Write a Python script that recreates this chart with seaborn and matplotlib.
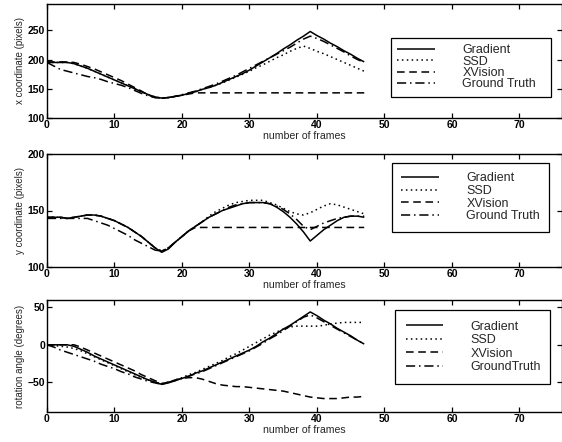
import numpy as np
import pandas as pd
import matplotlib
matplotlib.use("Agg")
import matplotlib.pyplot as plt
import seaborn as sns

sns.set_theme(style="ticks")
plt.rcParams['font.family'] = ['Liberation Sans', 'DejaVu Sans']

frames = list(range(48))
series_names = ["Gradient", "SSD", "XVision", "Ground Truth"]
series_names_bottom = ["Gradient", "SSD", "XVision", "GroundTruth"]

# x coordinate (pixels)
x_gradient = [195, 195, 195, 195, 193, 189, 185, 180, 175, 170, 165, 160, 155, 150, 145, 140,
              136, 134, 135, 137, 139, 142, 145, 149, 152, 156, 161, 166, 171, 176, 182, 189,
              196, 203, 210, 218, 225, 233, 240, 248, 241, 235, 228, 222, 215, 209, 202, 196]
x_ssd = [195, 195, 195, 195, 193, 189, 185, 180, 175, 170, 165, 160, 155, 150, 145, 140,
         136, 134, 135, 137, 139, 142, 145, 149, 152, 156, 160, 165, 170, 175, 180, 186,
         191, 197, 203, 208, 214, 219, 223, 219, 214, 210, 205, 200, 195, 190, 185, 180]
x_xvision = [196, 196, 196, 196, 195, 192, 188, 184, 179, 174, 169, 164, 158, 152, 146, 139,
             135, 134, 135, 137, 139, 141, 143, 143, 143, 143, 143, 143, 143, 143, 143, 143,
             143, 143, 143, 143, 143, 143, 143, 143, 143, 143, 143, 143, 143, 143, 143, 143]
x_truth = [195, 189, 183, 180, 177, 174, 171, 169, 166, 162, 159, 156, 152, 147, 142, 138,
           135, 134, 135, 137, 140, 143, 146, 150, 154, 158, 163, 168, 173, 179, 185, 191,
           197, 203, 209, 215, 221, 228, 235, 240, 236, 231, 225, 219, 213, 206, 200, 195]

# y coordinate (pixels)
y_gradient = [144, 144, 144, 143, 144, 145, 146, 146, 145, 143, 141, 138, 135, 131, 127, 122,
              117, 113, 116, 122, 127, 132, 136, 140, 144, 147, 150, 152, 154, 156, 157, 157,
              157, 156, 153, 149, 144, 138, 131, 123, 128, 133, 137, 141, 144, 145, 145, 144]
y_ssd = [144, 144, 144, 143, 144, 145, 146, 146, 145, 143, 141, 138, 135, 131, 127, 122,
         117, 114, 117, 122, 127, 132, 136, 140, 145, 149, 152, 155, 157, 158, 159, 159,
         159, 157, 155, 152, 149, 147, 146, 148, 151, 154, 156, 155, 153, 151, 149, 147]
y_xvision = [144, 144, 144, 143, 144, 145, 146, 146, 145, 143, 141, 138, 135, 131, 127, 122,
             117, 114, 117, 122, 127, 132, 135, 135, 135, 135, 135, 135, 135, 135, 135, 135,
             135, 135, 135, 135, 135, 135, 135, 135, 135, 135, 135, 135, 135, 135, 135, 135]
y_truth = [143, 143, 143, 143, 143, 143, 143, 141, 139, 137, 134, 131, 128, 124, 121, 118,
           115, 114, 117, 122, 127, 132, 136, 140, 144, 147, 150, 153, 155, 156, 157, 157,
           157, 156, 154, 151, 147, 142, 136, 133, 136, 139, 141, 143, 144, 145, 145, 145]

# rotation angle (degrees)
r_gradient = [0, 0, 0, 0, -2, -6, -10, -15, -19, -23, -27, -31, -35, -39, -43, -47,
              -50, -53, -51, -48, -45, -42, -38, -35, -31, -27, -23, -19, -15, -11, -7, -2,
              4, 9, 15, 21, 26, 32, 38, 44, 39, 33, 28, 22, 17, 12, 6, 1]
r_ssd = [0, -1, -2, -3, -5, -8, -12, -16, -20, -24, -28, -32, -36, -40, -44, -47,
         -50, -52, -50, -47, -44, -40, -37, -33, -29, -25, -21, -16, -12, -7, -2, 3,
         8, 13, 17, 21, 24, 25, 25, 25, 25, 26, 28, 29, 30, 30, 30, 30]
r_xvision = [0, 0, 0, 0, 0, -3, -7, -11, -15, -19, -23, -27, -31, -35, -40, -44,
             -48, -52, -50, -47, -45, -44, -44, -46, -49, -52, -54, -55, -56, -56, -57, -58,
             -59, -60, -61, -62, -64, -66, -68, -70, -71, -72, -72, -72, -71, -70, -70, -69]
r_truth = [0, -3, -7, -10, -13, -16, -19, -22, -26, -29, -32, -36, -39, -43, -46, -49,
           -51, -53, -50, -48, -45, -42, -39, -36, -32, -28, -24, -20, -16, -12, -8, -3,
           2, 8, 13, 19, 25, 31, 37, 40, 36, 31, 26, 21, 16, 11, 6, 1]

xticks = [0, 10, 20, 30, 40, 50, 60, 70]
panels = [
    dict(series=[x_gradient, x_ssd, x_xvision, x_truth], names=series_names,
         ylabel="x coordinate (pixels)", ylim=(100, 295), yticks=[100, 150, 200, 250]),
    dict(series=[y_gradient, y_ssd, y_xvision, y_truth], names=series_names,
         ylabel="y coordinate (pixels)", ylim=(100, 200), yticks=[100, 150, 200]),
    dict(series=[r_gradient, r_ssd, r_xvision, r_truth], names=series_names_bottom,
         ylabel="rotation angle (degrees)", ylim=(-90, 60), yticks=[-50, 0, 50]),
]

styles = [(0, ()), (0, (1, 2.2)), (0, (5, 3)), (0, (6, 2.5, 1, 2.5))]

W, H = 562, 442
fig = plt.figure(figsize=(W / 100, H / 100), dpi=100)
# (top px, bottom px) of each axes
boxes = [(4, 118), (154, 267), (300, 412)]
# legend (left px, right px, top px, labelspacing, borderpad)
leg_boxes = [(391, 551, 38, -0.05, 0.5), (392, 549, 163, 0.05, 0.75),
             (395, 550, 310, 0.12, 0.85)]
left, right = 47, 562

for p, (top, bot), lb in zip(panels, boxes, leg_boxes):
    ax = fig.add_axes([left / W, 1 - bot / H, (right - left) / W, (bot - top) / H])
    for vals, name, ls in zip(p["series"], p["names"], styles):
        df = pd.DataFrame({"frame": frames, "value": vals})
        sns.lineplot(data=df, x="frame", y="value", ax=ax, color="black",
                     linewidth=1.1, linestyle=ls, label=name)
    ax.set_xlim(0, 76.3)
    ax.set_ylim(*p["ylim"])
    ax.set_xticks(xticks)
    ax.set_yticks(p["yticks"])
    ax.tick_params(direction="in", length=3.5, width=0.9, top=True, right=True,
                   labelsize=7.5, pad=1.5, colors="black")
    for t in ax.get_xticklabels() + ax.get_yticklabels():
        t.set_fontweight("bold")
    for s in ax.spines.values():
        s.set_linewidth(1.0)
        s.set_color("black")
    ax.set_xlabel("number of frames", fontsize=7.6, labelpad=1)
    ax.set_ylabel(p["ylabel"], fontsize=7.0, labelpad=2)
    lx0, lx1, ly, lsp, bp = lb
    ax_w = right - left
    ax_h = bot - top
    anchor = ((lx0 - left) / ax_w, (bot - ly) / ax_h - 0.5, (lx1 - lx0) / ax_w, 0.5)
    leg = ax.legend(loc="upper left", bbox_to_anchor=anchor, mode="expand",
                    borderaxespad=0, fontsize=9, handlelength=3.0, handletextpad=2.2,
                    labelspacing=lsp, borderpad=bp, fancybox=False,
                    edgecolor="black", framealpha=1)
    leg.get_frame().set_linewidth(0.9)

fig.savefig("out.png", dpi=100)
